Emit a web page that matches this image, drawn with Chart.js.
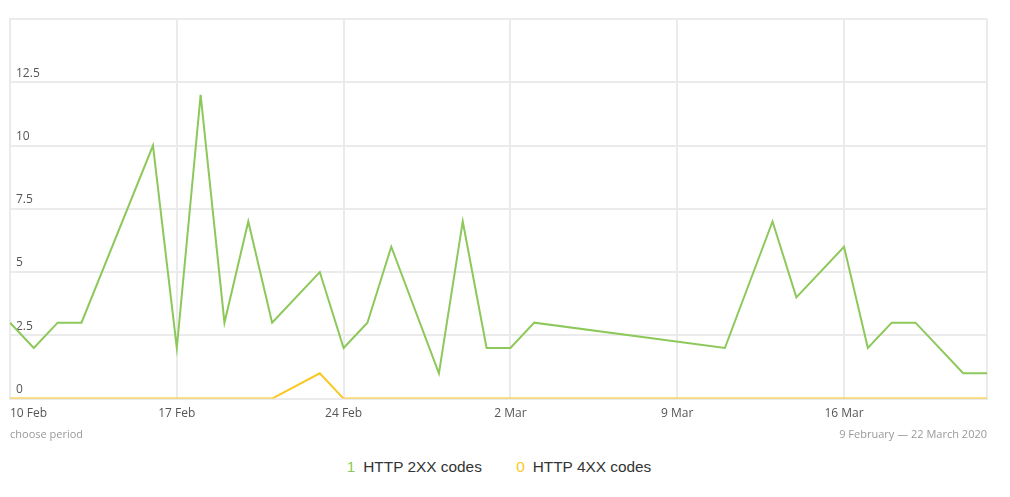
<!DOCTYPE html>
<html>
<head>
<meta charset="utf-8">
<script src="https://cdn.jsdelivr.net/npm/chart.js@4/dist/chart.umd.min.js"></script>
<style>
  body { margin: 0; background: #fff; font-family: "Open Sans", sans-serif; }
  #wrap { position: relative; width: 1010px; height: 497px; }
  #box { position: absolute; left: 0; top: 0; width: 1010px; height: 429px; }
  .note { position: absolute; top: 426px; font-size: 11px; color: #999; }
  #legend { position: absolute; top: 458px; left: 0; width: 998px; text-align: center;
            font-family: "Liberation Sans", Arial, sans-serif; font-size: 15.4px; color: #333; }
  #legend span.item { margin: 0 15px; }
  #legend b { font-weight: normal; margin-right: 8px; }
</style>
</head>
<body>
<div id="wrap">
  <div id="box"><canvas id="chart"></canvas></div>
  <div class="note" style="left:10px">choose period</div>
  <div class="note" style="right:23px">9 February — 22 March 2020</div>
  <div id="legend">
    <span class="item"><b style="color:#8cc85a">1</b>HTTP 2XX codes</span>
    <span class="item"><b style="color:#f9c823">0</b>HTTP 4XX codes</span>
  </div>
</div>
<script>
// days that have data
var dates = [
  '2020-02-10', '2020-02-11', '2020-02-12', '2020-02-13', '2020-02-16', '2020-02-17',
  '2020-02-18', '2020-02-19', '2020-02-20', '2020-02-21', '2020-02-23', '2020-02-24',
  '2020-02-25', '2020-02-26', '2020-02-28', '2020-02-29', '2020-03-01', '2020-03-02',
  '2020-03-03', '2020-03-11', '2020-03-13', '2020-03-14', '2020-03-16', '2020-03-17',
  '2020-03-18', '2020-03-19', '2020-03-21', '2020-03-22'
];
var http2xx = [3, 2, 3, 3, 10, 2, 12, 3, 7, 3, 5, 2, 3, 6, 1, 7, 2, 2, 3, 2, 7, 4, 6, 2, 3, 3, 1, 1];
var http4xx = [0, 0, 0, 0, 0, 0, 0, 0, 0, 0, 1, 0, 0, 0, 0, 0, 0, 0, 0, 0, 0, 0, 0, 0, 0, 0, 0, 0];
var tickDates = ['2020-02-10', '2020-02-17', '2020-02-24', '2020-03-02', '2020-03-09', '2020-03-16'];
var tickLabels = ['10 Feb', '17 Feb', '24 Feb', '2 Mar', '9 Mar', '16 Mar'];
var lastDate = '2020-03-22';

var start = Date.parse(dates[0]);
var DAY = 86400000;
function dayOf(s) { return Math.round((Date.parse(s) - start) / DAY); }

function points(values) {
    var pts = [];
    for (var i = 0; i < dates.length; i++) {
        pts.push({ x: dayOf(dates[i]), y: values[i] });
    }
    return pts;
}

var tickDays = tickDates.map(dayOf);
var endDay = dayOf(lastDate);
var gridColor = '#ebebeb';

var ctx = document.getElementById('chart').getContext('2d');
var myChart = new Chart(ctx, {
    type: 'line',
    data: {
        datasets: [
            {
                label: 'HTTP 4XX codes',
                data: points(http4xx),
                borderColor: '#f9c823',
                borderWidth: 2,
                pointRadius: 0,
                tension: 0
            },
            {
                label: 'HTTP 2XX codes',
                data: points(http2xx),
                borderColor: '#8cc85a',
                borderWidth: 2,
                pointRadius: 0,
                tension: 0
            }
        ]
    },
    options: {
        responsive: true,
        maintainAspectRatio: false,
        animation: false,
        layout: { padding: { left: -2, right: 23, top: 19, bottom: 0 } },
        plugins: {
            legend: { display: false },
            tooltip: { enabled: false }
        },
        scales: {
            x: {
                type: 'linear',
                min: 0,
                max: endDay,
                afterBuildTicks: function(scale) {
                    var t = tickDays.map(function(v) { return { value: v }; });
                    t.push({ value: endDay });
                    scale.ticks = t;
                },
                grid: { color: gridColor, drawTicks: false, lineWidth: 2 },
                border: { color: gridColor, width: 2 },
                ticks: {
                    align: 'inner',
                    maxRotation: 0,
                    autoSkip: false,
                    padding: 8,
                    color: '#555',
                    font: { family: 'Open Sans', size: 12 },
                    callback: function(v) {
                        var i = tickDays.indexOf(v);
                        return i < 0 ? '' : tickLabels[i];
                    }
                }
            },
            y: {
                min: 0,
                max: 15,
                grid: { color: gridColor, drawTicks: false, lineWidth: 2 },
                border: { color: gridColor, width: 2 },
                ticks: {
                    stepSize: 2.5,
                    mirror: true,
                    padding: 6,
                    labelOffset: -9,
                    color: '#555',
                    font: { family: 'Open Sans', size: 12 },
                    callback: function(v) { return v >= 15 ? '' : v; }
                }
            }
        }
    }
});
</script>
</body>
</html>
